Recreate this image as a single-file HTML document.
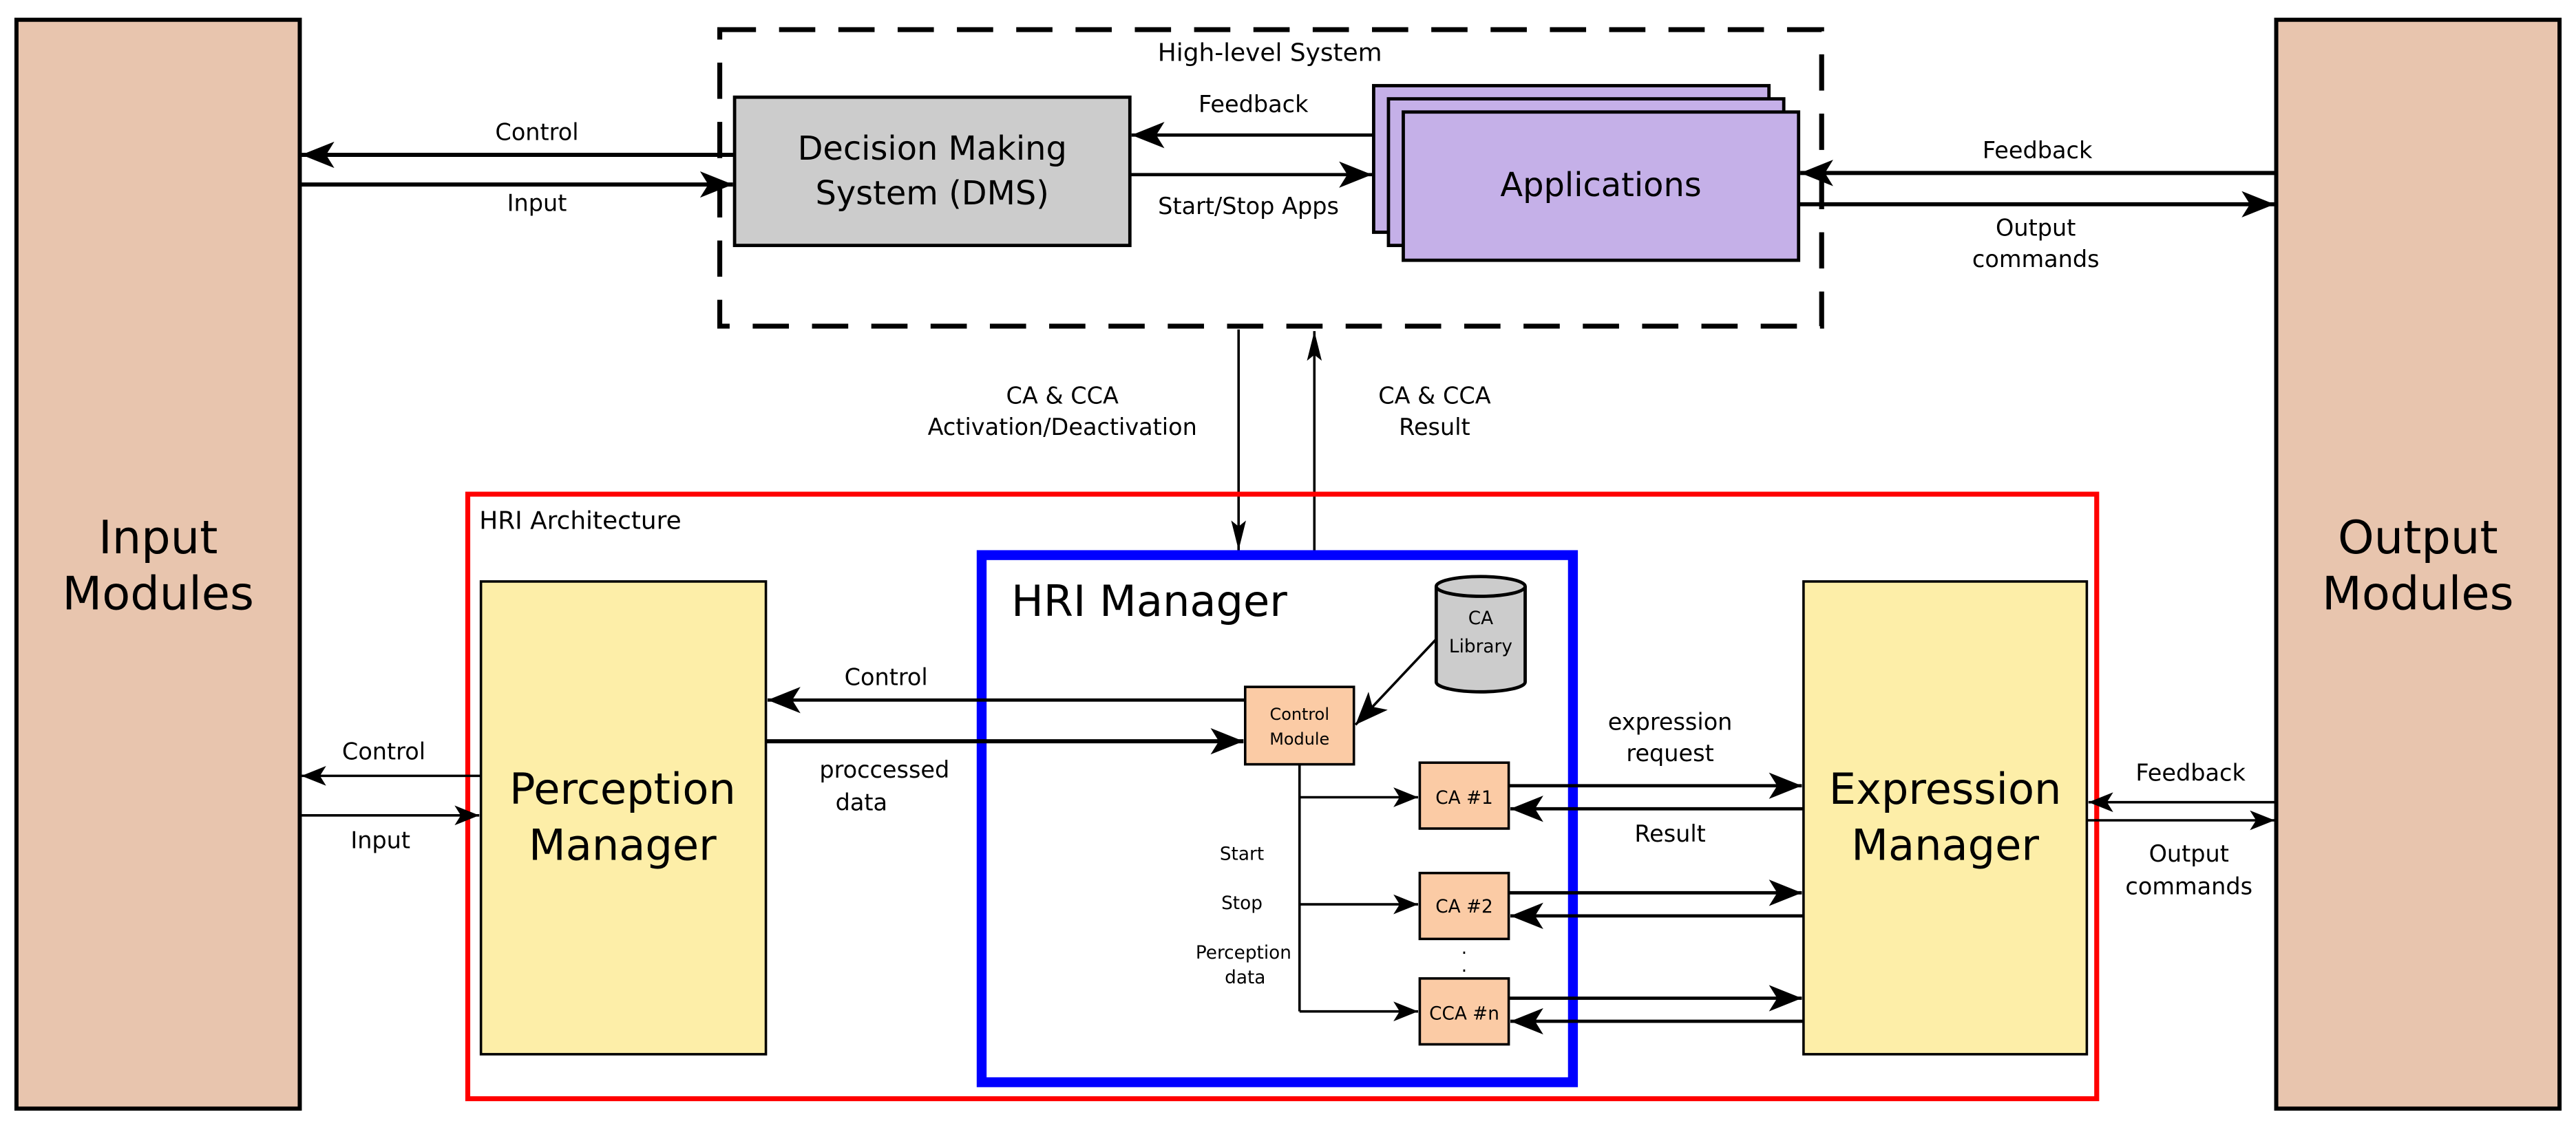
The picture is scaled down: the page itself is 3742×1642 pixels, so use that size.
<!DOCTYPE html>
<html><head><meta charset="utf-8"><style>
html,body{margin:0;padding:0;background:#fff}
svg{display:block}
text{font-family:"DejaVu Sans","Liberation Sans",sans-serif;fill:#000}
</style></head><body>
<svg width="3742" height="1642" viewBox="0 0 1564 686" preserveAspectRatio="none" xmlns="http://www.w3.org/2000/svg">
<defs>
<marker id="a" viewBox="0 0 20 16" refX="20" refY="8" markerWidth="20" markerHeight="16" markerUnits="userSpaceOnUse" orient="auto">
<path d="M0,0 L20,8 L0,16 L5,8 Z" fill="#000"/></marker>
<marker id="s" viewBox="0 0 20 16" refX="20" refY="8" markerWidth="15" markerHeight="12" markerUnits="userSpaceOnUse" orient="auto">
<path d="M0,0 L20,8 L0,16 L5,8 Z" fill="#000"/></marker>
<marker id="t" viewBox="0 0 20 10" refX="20" refY="5" markerWidth="22" markerHeight="9" markerUnits="userSpaceOnUse" orient="auto">
<path d="M0,0 L20,5 L0,10 L4,5 Z" fill="#000"/></marker>
</defs>

<!-- Input / Output modules -->
<rect x="10" y="12" width="172" height="661" fill="#e8c5ae" stroke="#000" stroke-width="2.5"/>
<text x="96" y="336" font-size="28" text-anchor="middle">Input</text>
<text x="96" y="370" font-size="28" text-anchor="middle">Modules</text>
<rect x="1382" y="12" width="172" height="661" fill="#e8c5ae" stroke="#000" stroke-width="2.5"/>
<text x="1468" y="336" font-size="28" text-anchor="middle">Output</text>
<text x="1468" y="370" font-size="28" text-anchor="middle">Modules</text>

<!-- High level dashed -->
<rect x="437" y="18" width="669" height="180" fill="none" stroke="#000" stroke-width="3" stroke-dasharray="22,14"/>
<text x="771" y="37" font-size="15" text-anchor="middle">High-level System</text>

<rect x="446" y="59" width="240" height="90" fill="#cccccc" stroke="#000" stroke-width="2"/>
<text x="566" y="97" font-size="20" text-anchor="middle">Decision Making</text>
<text x="566" y="124" font-size="20" text-anchor="middle">System (DMS)</text>

<rect x="834" y="52" width="240" height="89" fill="#c5b0e8" stroke="#000" stroke-width="2"/>
<rect x="843" y="60" width="240" height="89" fill="#c5b0e8" stroke="#000" stroke-width="2"/>
<rect x="852" y="68" width="240" height="90" fill="#c5b0e8" stroke="#000" stroke-width="2"/>
<text x="972" y="119" font-size="20" text-anchor="middle">Applications</text>

<line x1="446" y1="94" x2="183" y2="94" stroke="#000" stroke-width="2.5" marker-end="url(#a)"/>
<line x1="182" y1="112" x2="445" y2="112" stroke="#000" stroke-width="2.5" marker-end="url(#a)"/>
<text x="326" y="85" font-size="14" text-anchor="middle">Control</text>
<text x="326" y="128" font-size="14" text-anchor="middle">Input</text>

<line x1="834" y1="82" x2="687" y2="82" stroke="#000" stroke-width="2" marker-end="url(#a)"/>
<line x1="686" y1="106" x2="833" y2="106" stroke="#000" stroke-width="2" marker-end="url(#a)"/>
<text x="761" y="68" font-size="14" text-anchor="middle">Feedback</text>
<text x="758" y="130" font-size="14" text-anchor="middle">Start/Stop Apps</text>

<line x1="1382" y1="105" x2="1093" y2="105" stroke="#000" stroke-width="2.5" marker-end="url(#a)"/>
<line x1="1092" y1="124" x2="1381" y2="124" stroke="#000" stroke-width="2.5" marker-end="url(#a)"/>
<text x="1237" y="96" font-size="14" text-anchor="middle">Feedback</text>
<text x="1236" y="143" font-size="14" text-anchor="middle">Output</text>
<text x="1236" y="162" font-size="14" text-anchor="middle">commands</text>

<!-- vertical -->
<line x1="752" y1="200" x2="752" y2="334" stroke="#000" stroke-width="1.5" marker-end="url(#t)"/>
<line x1="798" y1="336" x2="798" y2="201" stroke="#000" stroke-width="1.5" marker-end="url(#t)"/>
<text x="645" y="245" font-size="14" text-anchor="middle">CA &amp; CCA</text>
<text x="645" y="264" font-size="14" text-anchor="middle">Activation/Deactivation</text>
<text x="871" y="245" font-size="14" text-anchor="middle">CA &amp; CCA</text>
<text x="871" y="264" font-size="14" text-anchor="middle">Result</text>

<!-- HRI architecture -->
<rect x="284" y="300" width="989" height="367" fill="none" stroke="#ff0000" stroke-width="3"/>
<text x="291" y="321" font-size="15">HRI Architecture</text>

<rect x="292" y="353" width="173" height="287" fill="#fdeea8" stroke="#000" stroke-width="1.5"/>
<text x="378" y="488" font-size="26" text-anchor="middle">Perception</text>
<text x="378" y="522" font-size="26" text-anchor="middle">Manager</text>
<rect x="1095" y="353" width="172" height="287" fill="#fdeea8" stroke="#000" stroke-width="1.5"/>
<text x="1181" y="488" font-size="26" text-anchor="middle">Expression</text>
<text x="1181" y="522" font-size="26" text-anchor="middle">Manager</text>

<rect x="596" y="337" width="359" height="320" fill="none" stroke="#0000ff" stroke-width="6"/>
<text x="614" y="374" font-size="26">HRI Manager</text>

<!-- CA library -->
<path d="M872,356 L872,414 A27,6 0 0 0 926,414 L926,356" fill="#cccccc" stroke="#000" stroke-width="2"/>
<ellipse cx="899" cy="356" rx="27" ry="6" fill="#cccccc" stroke="#000" stroke-width="2"/>
<text x="899" y="379" font-size="11" text-anchor="middle">CA</text>
<text x="899" y="396" font-size="11" text-anchor="middle">Library</text>
<line x1="872" y1="388" x2="823" y2="440" stroke="#000" stroke-width="1.5" marker-end="url(#a)"/>

<rect x="756" y="417" width="66" height="47" fill="#fbcba5" stroke="#000" stroke-width="1.5"/>
<text x="789" y="437" font-size="10" text-anchor="middle">Control</text>
<text x="789" y="452" font-size="10" text-anchor="middle">Module</text>

<line x1="756" y1="425" x2="466" y2="425" stroke="#000" stroke-width="2" marker-end="url(#a)"/>
<line x1="465" y1="450" x2="755" y2="450" stroke="#000" stroke-width="2.5" marker-end="url(#a)"/>
<text x="538" y="416" font-size="14" text-anchor="middle">Control</text>
<text x="537" y="472" font-size="14" text-anchor="middle">proccessed</text>
<text x="523" y="492" font-size="14" text-anchor="middle">data</text>

<line x1="292" y1="471" x2="183" y2="471" stroke="#000" stroke-width="1.5" marker-end="url(#s)"/>
<line x1="182" y1="495" x2="291" y2="495" stroke="#000" stroke-width="1.5" marker-end="url(#s)"/>
<text x="233" y="461" font-size="14" text-anchor="middle">Control</text>
<text x="231" y="515" font-size="14" text-anchor="middle">Input</text>

<line x1="1382" y1="487" x2="1268" y2="487" stroke="#000" stroke-width="1.5" marker-end="url(#s)"/>
<line x1="1267" y1="498" x2="1381" y2="498" stroke="#000" stroke-width="1.5" marker-end="url(#s)"/>
<text x="1330" y="474" font-size="14" text-anchor="middle">Feedback</text>
<text x="1329" y="523" font-size="14" text-anchor="middle">Output</text>
<text x="1329" y="543" font-size="14" text-anchor="middle">commands</text>

<!-- CA boxes -->
<path d="M789,464 L789,614" stroke="#000" stroke-width="1.5" fill="none"/>
<line x1="789" y1="484" x2="861" y2="484" stroke="#000" stroke-width="1.5" marker-end="url(#s)"/>
<line x1="789" y1="549" x2="861" y2="549" stroke="#000" stroke-width="1.5" marker-end="url(#s)"/>
<line x1="789" y1="614" x2="861" y2="614" stroke="#000" stroke-width="1.5" marker-end="url(#s)"/>
<text x="754" y="522" font-size="11" text-anchor="middle">Start</text>
<text x="754" y="552" font-size="11" text-anchor="middle">Stop</text>
<text x="755" y="582" font-size="11" text-anchor="middle">Perception</text>
<text x="756" y="597" font-size="11" text-anchor="middle">data</text>

<rect x="862" y="463" width="54" height="40" fill="#fbcba5" stroke="#000" stroke-width="1.5"/>
<text x="889" y="488" font-size="11" text-anchor="middle">CA #1</text>
<rect x="862" y="530" width="54" height="40" fill="#fbcba5" stroke="#000" stroke-width="1.5"/>
<text x="889" y="554" font-size="11" text-anchor="middle">CA #2</text>
<rect x="862" y="594" width="54" height="40" fill="#fbcba5" stroke="#000" stroke-width="1.5"/>
<text x="889" y="619" font-size="11" text-anchor="middle">CCA #n</text>
<text x="889" y="579" font-size="11" text-anchor="middle">.</text>
<text x="889" y="590" font-size="11" text-anchor="middle">.</text>

<line x1="916" y1="477" x2="1094" y2="477" stroke="#000" stroke-width="2" marker-end="url(#a)"/>
<line x1="1095" y1="491" x2="917" y2="491" stroke="#000" stroke-width="2" marker-end="url(#a)"/>
<line x1="916" y1="542" x2="1094" y2="542" stroke="#000" stroke-width="2" marker-end="url(#a)"/>
<line x1="1095" y1="556" x2="917" y2="556" stroke="#000" stroke-width="2" marker-end="url(#a)"/>
<line x1="916" y1="606" x2="1094" y2="606" stroke="#000" stroke-width="2" marker-end="url(#a)"/>
<line x1="1095" y1="620" x2="917" y2="620" stroke="#000" stroke-width="2" marker-end="url(#a)"/>
<text x="1014" y="443" font-size="14" text-anchor="middle">expression</text>
<text x="1014" y="462" font-size="14" text-anchor="middle">request</text>
<text x="1014" y="511" font-size="14" text-anchor="middle">Result</text>
</svg>
</body></html>
